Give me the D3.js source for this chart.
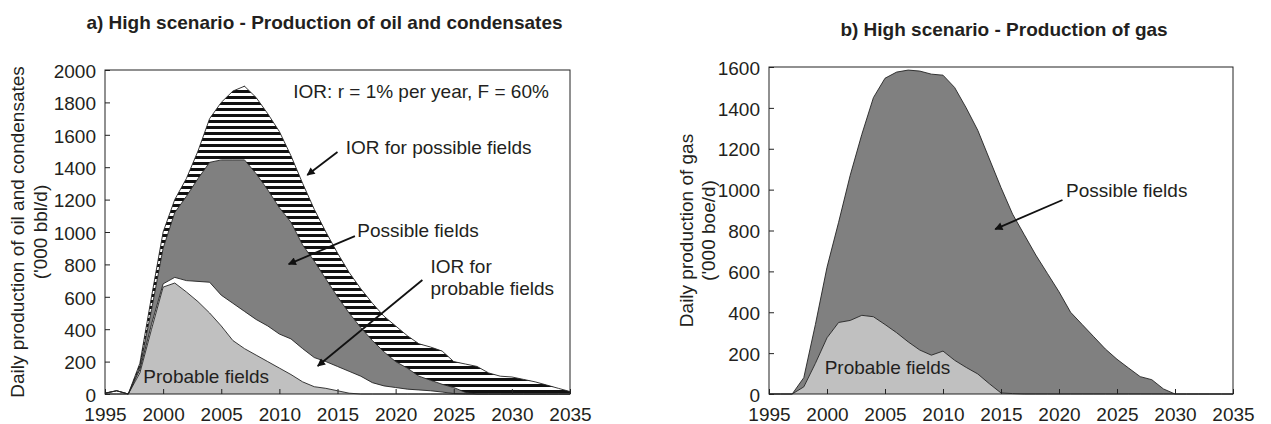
<!DOCTYPE html>
<html>
<head>
<meta charset="utf-8">
<script src="https://cdn.jsdelivr.net/npm/d3@7"></script>
<style>
  body { margin: 0; background: #fff; }
  text { font-family: "Liberation Sans", Arial, sans-serif; fill: #231f20; }
</style>
</head>
<body>
<svg id="chart" width="1271" height="424"></svg>
<script>
// years on the x axis
const years = [1995, 1996, 1997, 1998, 1999, 2000, 2001, 2002, 2003, 2004,
               2005, 2006, 2007, 2008, 2009, 2010, 2011, 2012, 2013, 2014,
               2015, 2016, 2017, 2018, 2019, 2020, 2021, 2022, 2023, 2024,
               2025, 2026, 2027, 2028, 2029, 2030, 2031, 2032, 2033, 2034, 2035];

// a) oil and condensates, '000 bbl/d (stacked layers, bottom to top)
const oilProbable    = [0, 0, 0, 130, 400, 660, 685, 630, 570, 500, 420, 330, 280, 240, 200, 160, 120, 75, 45, 35,
                        20, 5, 0, 0, 0, 0, 0, 0, 0, 0, 0, 0, 0, 0, 0, 0, 0, 0, 0, 0, 0];
const oilIORProbable = [5, 20, 0, 20, 30, 20, 35, 70, 125, 190, 190, 230, 230, 220, 220, 210, 220, 205, 180, 165,
                        150, 135, 110, 70, 50, 40, 30, 25, 20, 12, 3, 0, 0, 0, 0, 0, 0, 0, 0, 0, 0];
const oilPossible    = [0, 0, 0, 20, 90, 220, 400, 520, 635, 740, 835, 885, 935, 900, 840, 780, 720, 640, 595, 510,
                        430, 360, 300, 260, 210, 160, 130, 85, 65, 48, 37, 10, 0, 0, 0, 0, 0, 0, 0, 0, 0];
const oilIORPossible = [0, 0, 0, 20, 80, 100, 80, 110, 170, 270, 355, 425, 455, 470, 470, 470, 410, 380, 320, 290,
                        270, 250, 240, 230, 220, 220, 200, 200, 205, 205, 160, 175, 170, 130, 110, 105, 90, 75, 55, 35, 15];

// b) gas, '000 boe/d
const gasProbable = [0, 0, 0, 35, 150, 275, 350, 360, 385, 378, 340, 300, 255, 215, 190, 210, 165, 130, 98, 50,
                     5, 2, 0, 0, 0, 0, 0, 0, 0, 0, 0, 0, 0, 0, 0, 0, 0, 0, 0, 0, 0];
const gasPossible = [0, 0, 0, 45, 190, 345, 490, 710, 885, 1072, 1205, 1275, 1330, 1365, 1375, 1350, 1335, 1270, 1192, 1100,
                     1005, 878, 780, 680, 590, 500, 400, 340, 280, 220, 170, 127, 85, 70, 25, 0, 0, 0, 0, 0, 0];

const xTicks = [1995, 2000, 2005, 2010, 2015, 2020, 2025, 2030, 2035];
const oilTicks = [0, 200, 400, 600, 800, 1000, 1200, 1400, 1600, 1800, 2000];
const gasTicks = [0, 200, 400, 600, 800, 1000, 1200, 1400, 1600];

const svg = d3.select("#chart");
const defs = svg.append("defs");

// horizontal black/white stripes for the IOR of possible fields
const hatch = defs.append("pattern")
  .attr("id", "hatch")
  .attr("patternUnits", "userSpaceOnUse")
  .attr("width", 10).attr("height", 6);
hatch.append("rect").attr("width", 10).attr("height", 6).attr("fill", "#fff");
hatch.append("rect").attr("width", 10).attr("height", 3).attr("fill", "#111");

defs.append("marker")
  .attr("id", "arrow")
  .attr("viewBox", "0 0 10 10")
  .attr("refX", 9).attr("refY", 5)
  .attr("markerWidth", 10).attr("markerHeight", 8)
  .attr("markerUnits", "userSpaceOnUse")
  .attr("orient", "auto")
  .append("path").attr("d", "M0,0L10,5L0,10z").attr("fill", "#111");

function panel(cfg) {
  const x = d3.scaleLinear().domain([1995, 2035]).range([cfg.left, cfg.right]);
  const y = d3.scaleLinear().domain([0, cfg.yMax]).range([cfg.bottom, cfg.top]);
  const g = svg.append("g");

  const table = years.map((yr, i) => {
    const row = { year: yr };
    cfg.layers.forEach(l => row[l.key] = l.values[i]);
    return row;
  });
  const series = d3.stack().keys(cfg.layers.map(l => l.key))(table);

  const area = d3.area()
    .x(d => x(d.data.year))
    .y0(d => y(d[0]))
    .y1(d => y(d[1]));
  const edge = d3.line()
    .x(d => x(d.data.year))
    .y(d => y(d[1]));

  g.selectAll("path.layer").data(series).join("path")
    .attr("class", "layer")
    .attr("d", area)
    .attr("fill", (d, i) => cfg.layers[i].fill);
  g.selectAll("path.edge").data(series).join("path")
    .attr("class", "edge")
    .attr("d", edge)
    .attr("fill", "none")
    .attr("stroke", "#222")
    .attr("stroke-width", 0.9);

  // frame
  g.append("rect")
    .attr("x", cfg.left).attr("y", cfg.top)
    .attr("width", cfg.right - cfg.left).attr("height", cfg.bottom - cfg.top)
    .attr("fill", "none").attr("stroke", "#222").attr("stroke-width", 1);

  const xAxis = g.append("g")
    .attr("transform", `translate(0,${cfg.bottom})`)
    .call(d3.axisBottom(x).tickValues(xTicks).tickFormat(d3.format("d"))
      .tickSizeInner(-5).tickSizeOuter(0).tickPadding(14));
  const yAxis = g.append("g")
    .attr("transform", `translate(${cfg.left},0)`)
    .call(d3.axisLeft(y).tickValues(cfg.yTicks).tickFormat(d3.format("d"))
      .tickSizeInner(-5).tickSizeOuter(0).tickPadding(9));
  [xAxis, yAxis].forEach(a => {
    a.select(".domain").remove();
    a.attr("font-size", null).attr("font-family", null);
    a.selectAll("line").attr("stroke", "#222");
    a.selectAll("text").attr("font-size", 19).attr("fill", "#231f20");
  });
  yAxis.selectAll("text").attr("dy", "0.38em");

  // title
  svg.append("text")
    .attr("x", (cfg.left + cfg.right) / 2 + cfg.titleDx)
    .attr("y", cfg.titleY)
    .attr("text-anchor", "middle")
    .attr("font-size", 19).attr("font-weight", "bold")
    .text(cfg.title);

  // y axis title, two lines
  cfg.yTitle.forEach((t, i) => {
    svg.append("text")
      .attr("transform", `translate(${cfg.yTitleX[i]},${(cfg.top + cfg.bottom) / 2}) rotate(-90)`)
      .attr("text-anchor", "middle")
      .attr("dy", "0.36em")
      .attr("font-size", 19)
      .text(t);
  });

  // annotations in data coordinates
  cfg.notes.forEach(n => {
    g.append("text")
      .attr("x", x(n.year)).attr("y", y(n.value))
      .attr("font-size", 19)
      .text(n.text);
  });
  cfg.arrows.forEach(a => {
    g.append("line")
      .attr("x1", x(a.from[0])).attr("y1", y(a.from[1]))
      .attr("x2", x(a.to[0])).attr("y2", y(a.to[1]))
      .attr("stroke", "#111").attr("stroke-width", 1.8)
      .attr("marker-end", "url(#arrow)");
  });
}

panel({
  left: 105, right: 570, top: 70, bottom: 394, yMax: 2000, yTicks: oilTicks,
  title: "a) High scenario - Production of oil and condensates", titleY: 29, titleDx: -13,
  yTitle: ["Daily production of oil and condensates", "('000 bbl/d)"], yTitleX: [17, 40],
  layers: [
    { key: "probable", values: oilProbable, fill: "#c0c0c0" },
    { key: "iorProbable", values: oilIORProbable, fill: "#ffffff" },
    { key: "possible", values: oilPossible, fill: "#808080" },
    { key: "iorPossible", values: oilIORPossible, fill: "url(#hatch)" }
  ],
  notes: [
    { text: "IOR: r = 1% per year, F = 60%", year: 2011.2, value: 1827 },
    { text: "IOR for possible fields", year: 2015.7, value: 1481 },
    { text: "Possible fields", year: 2016.7, value: 969 },
    { text: "IOR for", year: 2023.0, value: 747 },
    { text: "probable fields", year: 2023.0, value: 611 },
    { text: "Probable fields", year: 1998.3, value: 68 }
  ],
  arrows: [
    { from: [2015.0, 1494], to: [2012.4, 1352] },
    { from: [2016.5, 975], to: [2010.8, 802] },
    { from: [2022.3, 704], to: [2013.3, 173] }
  ]
});

panel({
  left: 769, right: 1233, top: 67, bottom: 394, yMax: 1600, yTicks: gasTicks,
  title: "b) High scenario - Production of gas", titleY: 36, titleDx: 3,
  yTitle: ["Daily production of gas", "('000 boe/d)"], yTitleX: [686, 708],
  layers: [
    { key: "probable", values: gasProbable, fill: "#c0c0c0" },
    { key: "possible", values: gasPossible, fill: "#808080" }
  ],
  notes: [
    { text: "Possible fields", year: 2020.6, value: 964 },
    { text: "Probable fields", year: 1999.8, value: 98 }
  ],
  arrows: [
    { from: [2020.3, 949], to: [2014.5, 807] }
  ]
});
</script>
</body>
</html>
